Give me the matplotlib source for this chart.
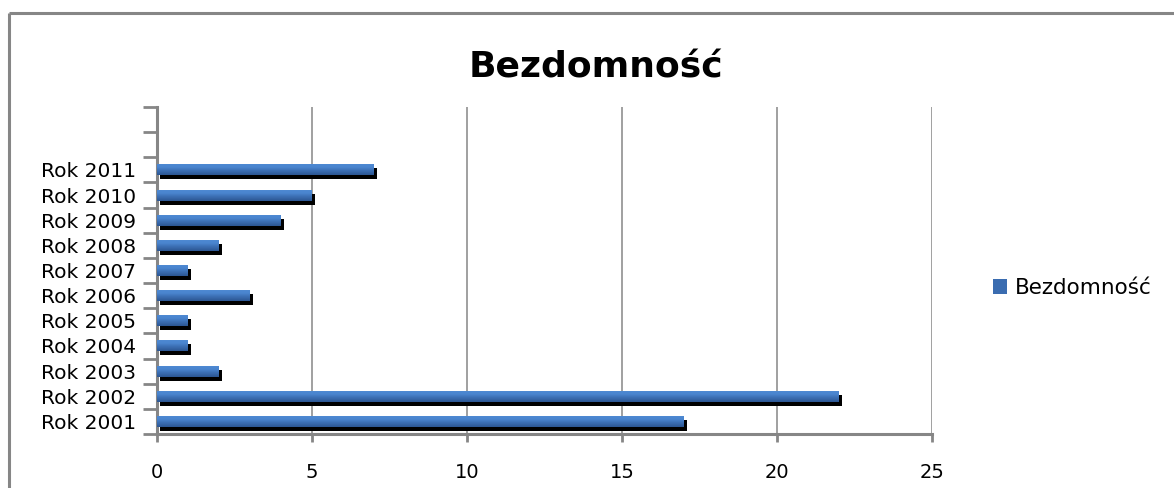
import matplotlib
matplotlib.use("Agg")
import matplotlib.pyplot as plt
import matplotlib.transforms as mtransforms
from matplotlib.lines import Line2D
from matplotlib.patches import Rectangle
from matplotlib.colors import LinearSegmentedColormap
import numpy as np

plt.rcParams['font.family'] = ['DejaVu Sans']

# Data
years = ["Rok 2001", "Rok 2002", "Rok 2003", "Rok 2004", "Rok 2005", "Rok 2006",
         "Rok 2007", "Rok 2008", "Rok 2009", "Rok 2010", "Rok 2011"]
values = [17, 22, 2, 1, 1, 3, 1, 2, 4, 5, 7]
n_slots = 13          # category axis also holds two empty rows above 2011
series_name = "Bezdomność"
title = "Bezdomność"
x_ticks = [0, 5, 10, 15, 20, 25]

W, H = 1174, 488
fig = plt.figure(figsize=(W / 100, H / 100), dpi=100)
fig.patch.set_facecolor("white")

# chart area frame (left and top edges visible)
frame_c = "#868686"
fig.add_artist(Line2D([9 / W, 9 / W], [0, 1 - 13 / H], transform=fig.transFigure,
                      color=frame_c, lw=2.2, solid_capstyle="butt"))
fig.add_artist(Line2D([9 / W, 1], [1 - 13 / H, 1 - 13 / H], transform=fig.transFigure,
                      color=frame_c, lw=2.2, solid_capstyle="butt"))

left, right = 157 / W, 932 / W
bottom, top = 1 - 434 / H, 1 - 107 / H
ax = fig.add_axes([left, bottom, right - left, top - bottom])

pos = np.arange(len(years))
bar_h = 0.44

# drop shadow
shadow_tr = ax.transData + mtransforms.ScaledTranslation(3 / 100, -4 / 100, fig.dpi_scale_trans)
ax.barh(pos, values, height=bar_h, color="black", transform=shadow_tr, zorder=2, linewidth=0)

# main bars with vertical gradient
bars = ax.barh(pos, values, height=bar_h, color="#3d72b8", zorder=3, linewidth=0,
               label=series_name)
cmap = LinearSegmentedColormap.from_list("barblue", ["#2c5692", "#3a6cb0", "#4a85cf", "#4f8ad3"])
grad = np.linspace(0, 1, 64).reshape(-1, 1)
for b in bars:
    x0, y0 = b.get_x(), b.get_y()
    w, h = b.get_width(), b.get_height()
    im = ax.imshow(grad, cmap=cmap, aspect="auto", origin="lower",
                   extent=[x0, x0 + w, y0, y0 + h], zorder=3.5)
    im.set_clip_path(b)

ax.set_xlim(0, 25)
ax.set_ylim(-0.5, n_slots - 0.5)

# gridlines
ax.set_xticks(x_ticks)
ax.xaxis.grid(True, color=frame_c, lw=1.1, zorder=1)
ax.set_axisbelow(True)

# category ticks at slot boundaries, labels at slot centres
ax.set_yticks(np.arange(-0.5, n_slots, 1.0))
ax.set_yticklabels([])
ax.set_yticks(pos, minor=True)
ax.set_yticklabels(years, minor=True, fontsize=14.5)
ax.tick_params(axis="y", which="major", length=10, width=2, color=frame_c, direction="out")
ax.tick_params(axis="y", which="minor", length=0, pad=15)
ax.tick_params(axis="x", which="major", length=6, width=2, color=frame_c, direction="out",
               labelsize=14, pad=15)

for s in ["top", "right"]:
    ax.spines[s].set_visible(False)
for s in ["left", "bottom"]:
    ax.spines[s].set_color(frame_c)
    ax.spines[s].set_linewidth(2.2)

fig.text(596 / W, 1 - 68 / H, title, ha="center", va="center", fontsize=26,
         fontweight="bold")

# legend
leg_handle = Rectangle((0, 0), 1, 1, facecolor="#3a6cb0", edgecolor="none")
fig.legend([leg_handle], [series_name], loc="center left",
           bbox_to_anchor=(993 / W, 1 - 288 / H), frameon=False, fontsize=15.5,
           borderpad=0, borderaxespad=0,
           handlelength=0.66, handleheight=0.66, handletextpad=0.35)

fig.savefig("out.png", dpi=100, facecolor="white")
